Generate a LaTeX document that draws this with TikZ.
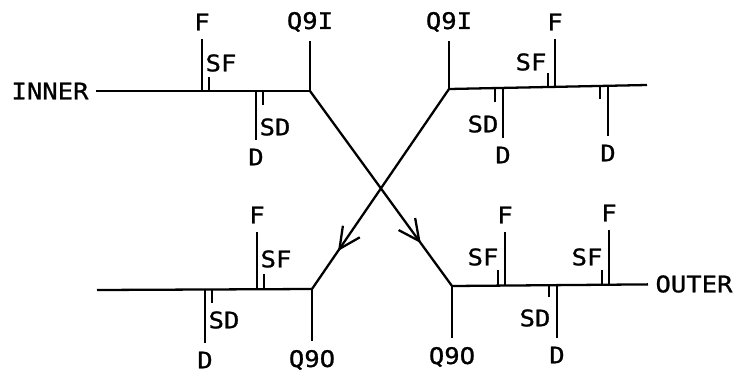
\documentclass[tikz,border=0pt]{standalone}
\usepackage{fontspec}
\newfontfamily\lettering[FakeStretch=1.12,FakeBold=1]{DejaVu Sans Mono}
\usetikzlibrary{arrows.meta,decorations.markings,positioning}
\tikzset{
  every picture/.style = {
    line width = 1.3pt,
  }
  ,
  lbl/.style = {
    font = \lettering\fontsize{13}{13}\selectfont,
    inner sep = 0pt
  }
  , % labels at the end of a magnet bar
  tag/.style = {
    lbl,
    outer sep = 1.8mm
  }
  , % names of the rings
  ring/.style = {
    lbl,
    outer sep = 1.5mm
  }
  , % open arrow head half way along a transfer line
  mid arrow/.style = {
    postaction = {decorate},
    decoration = {
      markings,
      mark = at position #1 with {\arrow{Straight Barb[length=4.2mm,width=4.1mm]}}
    }
  }
}
\begin{document}
\begin{tikzpicture}[x=0.02cm, y=-0.02cm]
  \useasboundingbox (0,0) rectangle (735,373);
  % top left: inner ring
  \node[ring] (inner) at (50,91) {INNER};
  \coordinate (qi1) at (310,91);
  \coordinate (f1) at (202,91);
  \coordinate (d1) at (256,91);
  \node[tag] (lf1) at (202,22) {F};
  \node[tag] (ld1) at (256,157) {D};
  \node[tag] (lqi1) at (310,22) {Q9I};
  \node[lbl] (lsf1) at (221,63) {SF};
  \node[lbl] (lsd1) at (275,127) {SD};
  \draw (inner) -- (qi1);
  \draw (f1) -- (lf1);
  \draw (d1) -- (ld1);
  \draw (qi1) -- (lqi1);
  \draw (f1) ++(7,0) -- ++(0,-14);
  \draw (d1) ++(7,0) -- ++(0,14);

  % top right
  \coordinate (qi2) at (449,89);
  \coordinate (tr) at (647,85);
  \coordinate (d2) at (503,87.9);
  \coordinate (f2) at (555,86.9);
  \coordinate (d3) at (608,85.8);
  \node[tag] (lqi2) at (449,22) {Q9I};
  \node[tag] (ld2) at (503,155) {D};
  \node[tag] (lf2) at (555,22) {F};
  \node[tag] (ld3) at (608,153) {D};
  \node[lbl] (lsd2) at (483,124) {SD};
  \node[lbl] (lsf2) at (531,62) {SF};
  \draw (qi2) -- (tr);
  \draw (qi2) -- (lqi2);
  \draw (d2) -- (ld2);
  \draw (f2) -- (lf2);
  \draw (d3) -- (ld3);
  \draw (d2) ++(-8,0) -- ++(0,14);
  \draw (f2) ++(-7,0) -- ++(0,-14);
  \draw (d3) ++(-8,0) -- ++(0,13);

  % bottom left
  \coordinate (bl) at (97,290);
  \coordinate (qo1) at (312,289);
  \coordinate (d4) at (205,290);
  \coordinate (f3) at (257,289);
  \node[tag] (ld4) at (205,360) {D};
  \node[tag] (lf3) at (257,215) {F};
  \node[tag] (lqo1) at (312,360) {Q9O};
  \node[lbl] (lsd4) at (224,320) {SD};
  \node[lbl] (lsf3) at (276,259) {SF};
  \draw (bl) -- (qo1);
  \draw (d4) -- (ld4);
  \draw (f3) -- (lf3);
  \draw (qo1) -- (lqo1);
  \draw (d4) ++(7,0) -- ++(0,13);
  \draw (f3) ++(7,0) -- ++(0,-15);

  % bottom right: outer ring
  \coordinate (qo2) at (452,286);
  \coordinate (f4) at (505,285.2);
  \coordinate (d5) at (557,284.4);
  \coordinate (f5) at (609,283.6);
  \node[ring] (outer) at (694,284) {OUTER};
  \node[tag] (lqo2) at (452,357) {Q9O};
  \node[tag] (lf4) at (505,215) {F};
  \node[tag] (ld5) at (557,355) {D};
  \node[tag] (lf5) at (609,213) {F};
  \node[lbl] (lsf4) at (483,257) {SF};
  \node[lbl] (lsd5) at (535,318) {SD};
  \node[lbl] (lsf5) at (587,257) {SF};
  \draw (qo2) -- (outer);
  \draw (qo2) -- (lqo2);
  \draw (f4) -- (lf4);
  \draw (d5) -- (ld5);
  \draw (f5) -- (lf5);
  \draw (f4) ++(-7,0) -- ++(0,-15);
  \draw (d5) ++(-8,0) -- ++(0,13);
  \draw (f5) ++(-7,0) -- ++(0,-14);

  % crossing transfer lines
  \draw[mid arrow=0.78] (qi1) -- (qo2);
  \draw[mid arrow=0.81] (qi2) -- (qo1);
\end{tikzpicture}
\end{document}
